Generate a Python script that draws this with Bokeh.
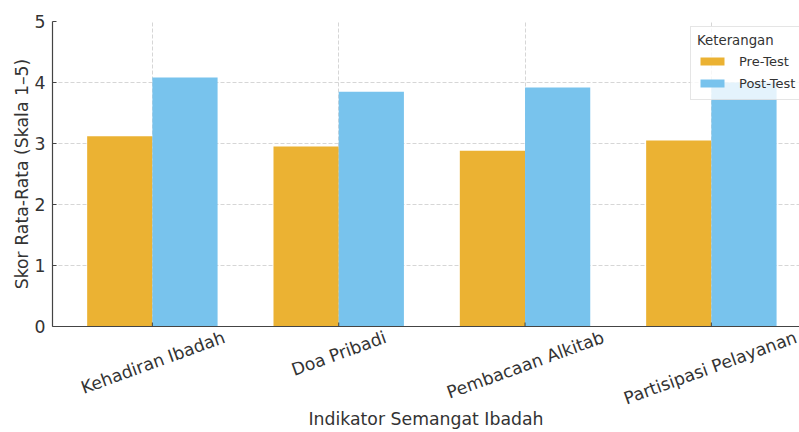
import math
from bokeh.plotting import figure
from bokeh.models import (ColumnDataSource, FixedTicker, Legend,
                          LegendItem, Range1d)
from bokeh.transform import dodge
from bokeh.embed import file_html
from bokeh.resources import INLINE

# ---- data ----
categories = ["Kehadiran Ibadah", "Doa Pribadi", "Pembacaan Alkitab",
              "Partisipasi Pelayanan"]
pre_test = [3.12, 2.95, 2.88, 3.05]
post_test = [4.08, 3.85, 3.92, 4.00]
series_names = ["Pre-Test", "Post-Test"]
y_ticks = [0, 1, 2, 3, 4, 5]
x_axis_title = "Indikator Semangat Ibadah"
y_axis_title = "Skor Rata-Rata (Skala 1–5)"
legend_title = "Keterangan"

# ---- style ----
FONT = "DejaVu Sans"
FSN = 17.3
FS = f"{FSN}px"
TXT = "#333333"
AX = "#444444"
PRE_COLOR = "#EBB233"
POST_COLOR = "#78C3ED"
BAR_W = 0.35
W, H = 799, 432
FRAME_LEFT, FRAME_TOP, FRAME_BOTTOM = 52, 21, 326
X0, X1 = -0.536, 3.473
PX_PER_UNIT = (W - FRAME_LEFT) / (X1 - X0)
ANGLE = math.radians(20)

# approximate DejaVu Sans advance widths (em) used to centre rotated labels
CHAR_EM = {" ": 0.318, "A": 0.684, "D": 0.770, "I": 0.295, "K": 0.656,
           "P": 0.603, "a": 0.613, "b": 0.635, "c": 0.550, "d": 0.635,
           "e": 0.615, "h": 0.634, "i": 0.278, "k": 0.579, "l": 0.278,
           "m": 0.974, "n": 0.634, "o": 0.612, "p": 0.635, "r": 0.411,
           "s": 0.521, "t": 0.392, "y": 0.592}


def text_width(s):
    return sum(CHAR_EM.get(c, 0.6) for c in s) * FSN


p = figure(width=W, height=H, output_backend="svg", toolbar_location=None,
           x_range=Range1d(X0, X1), y_range=Range1d(0, 5),
           min_border_left=FRAME_LEFT, min_border_right=0,
           min_border_top=FRAME_TOP, min_border_bottom=H - FRAME_BOTTOM)
p.outline_line_color = None
p.background_fill_color = "white"
p.border_fill_color = "white"

idx = list(range(len(categories)))
src = ColumnDataSource(dict(idx=idx, pre=pre_test, post=post_test))
r_pre = p.vbar(x=dodge("idx", -BAR_W / 2), top="pre", width=BAR_W, source=src,
               fill_color=PRE_COLOR, line_color=None)
r_post = p.vbar(x=dodge("idx", BAR_W / 2), top="post", width=BAR_W, source=src,
                fill_color=POST_COLOR, line_color=None)

# small inward tick marks at the category positions on the x axis
tick_len = 4 / ((FRAME_BOTTOM - FRAME_TOP) / 5)
p.segment(x0=idx, y0=[0] * len(idx), x1=idx, y1=[tick_len] * len(idx),
          line_color=AX, line_width=1)

# x axis: Bokeh right-aligns rotated labels at their tick, so the label
# ticks are placed half a label-width to the right so the text is centred
# on its category (as in the reference)
label_pos = []
for i, name in enumerate(categories):
    L = text_width(name)
    label_pos.append(round(i + (L / 2) * math.cos(ANGLE) / PX_PER_UNIT, 4))
p.xaxis.ticker = FixedTicker(ticks=label_pos)
p.xaxis.major_label_overrides = {pos: name for pos, name in zip(label_pos, categories)}
p.xaxis.major_label_orientation = ANGLE
p.xaxis.major_tick_line_color = None
p.xaxis.major_tick_in = 0
p.xaxis.major_tick_out = 0
p.xaxis.major_label_standoff = 10
p.xaxis.major_label_text_font = FONT
p.xaxis.major_label_text_font_size = FS
p.xaxis.major_label_text_color = TXT
p.xaxis.axis_label = x_axis_title
p.xaxis.axis_label_text_font = FONT
p.xaxis.axis_label_text_font_size = FS
p.xaxis.axis_label_text_font_style = "normal"
p.xaxis.axis_label_text_color = TXT
p.xaxis.axis_label_standoff = -12

p.yaxis.ticker = FixedTicker(ticks=y_ticks)
p.yaxis.major_tick_in = 4
p.yaxis.major_tick_out = 0
p.yaxis.major_tick_line_color = AX
p.yaxis.major_label_text_font = FONT
p.yaxis.major_label_text_font_size = FS
p.yaxis.major_label_text_color = TXT
p.yaxis.major_label_standoff = 7
p.yaxis.axis_label = y_axis_title
p.yaxis.axis_label_text_font = FONT
p.yaxis.axis_label_text_font_size = FS
p.yaxis.axis_label_text_font_style = "normal"
p.yaxis.axis_label_text_color = TXT
p.yaxis.axis_label_standoff = 0
for ax in (p.xaxis[0], p.yaxis[0]):
    ax.axis_line_color = AX
    ax.axis_line_width = 1.2
    ax.minor_tick_line_color = None

# grid
p.xgrid.ticker = FixedTicker(ticks=idx)
for g in (p.xgrid[0], p.ygrid[0]):
    g.grid_line_color = "#cccccc"
    g.grid_line_dash = "4 2"
    g.grid_line_width = 0.8

# legend
legend = Legend(items=[LegendItem(label=series_names[0], renderers=[r_pre]),
                       LegendItem(label=series_names[1], renderers=[r_post])],
                title=legend_title,
                location=(690 - FRAME_LEFT, FRAME_BOTTOM - 100))
legend.border_line_color = "#cccccc"
legend.background_fill_color = "white"
legend.background_fill_alpha = 0.8
legend.padding = 6
legend.margin = 0
legend.spacing = 2
legend.glyph_width = 30
legend.glyph_height = 10
legend.label_height = 20
legend.label_standoff = 12
legend.label_text_font = FONT
legend.label_text_font_size = "13px"
legend.label_text_color = TXT
legend.title_text_font = FONT
legend.title_text_font_size = "13.3px"
legend.title_text_font_style = "normal"
legend.title_text_color = TXT
legend.title_standoff = 3
p.add_layout(legend)

open("out.html", "w").write(file_html(p, INLINE))
